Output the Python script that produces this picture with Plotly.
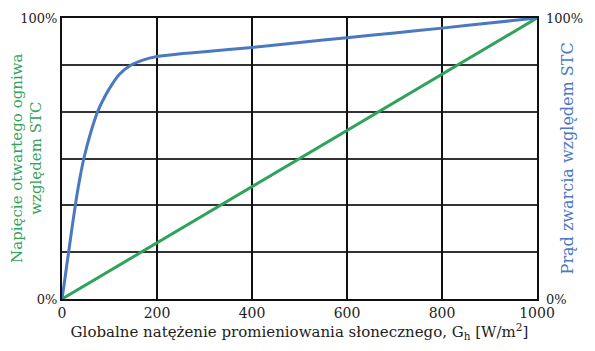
import plotly.graph_objects as go

# Data
irradiance = [0, 3, 6, 10, 14, 20, 28, 36, 46, 60, 75, 90, 105, 120, 143, 170, 200, 250, 300, 400, 500, 600, 700, 800, 900, 1000]
isc_pct = [0, 3.5, 7, 12, 16.7, 24, 33.3, 41.5, 50, 59, 66.7, 72, 76.3, 79.8, 83.0, 85.0, 86.3, 87.3, 88, 89.5, 91.3, 93, 94.7, 96.4, 98.2, 100]
voc_g = [0, 1000]
voc_pct = [0, 100]

x_ticks = [0, 200, 400, 600, 800, 1000]
y_ticks = [0, 100]
y_text = ["0%", "100%"]

BLUE = "#4a79c2"
GREEN = "#2fa35a"
FONT = "DejaVu Serif"

fig = go.Figure()
fig.add_trace(go.Scatter(x=voc_g, y=voc_pct, mode="lines",
                         line=dict(color=GREEN, width=3), showlegend=False))
fig.add_trace(go.Scatter(x=irradiance, y=isc_pct, mode="lines", line_shape="spline",
                         line=dict(color=BLUE, width=3, smoothing=0.6), showlegend=False))
# invisible trace for the right axis
fig.add_trace(go.Scatter(x=[0, 1000], y=[0, 100], yaxis="y2", mode="lines",
                         line=dict(width=0), hoverinfo="skip", showlegend=False))

fig.update_layout(
    width=595, height=351,
    margin=dict(l=62, r=58, t=18, b=52),
    paper_bgcolor="white", plot_bgcolor="white",
    font=dict(family=FONT, size=14, color="#222"),
    xaxis=dict(range=[0, 1000], tickvals=x_ticks, ticks="", showgrid=True,
               gridcolor="#111", gridwidth=2, zeroline=False,
               showline=True, linecolor="#111", linewidth=2, mirror=True,
               tickfont=dict(family=FONT, size=14, color="#222"),
               title=dict(text="Globalne natężenie promieniowania słonecznego, G<sub>h</sub> [W/m<sup>2</sup>]",
                          font=dict(family=FONT, size=15, color="#222"), standoff=0)),
    yaxis=dict(range=[0, 100], tickvals=y_ticks, ticktext=y_text, ticks="",
               showgrid=False, zeroline=False,
               minor=dict(tick0=0, dtick=100/6, showgrid=True, gridcolor="#333", gridwidth=2, ticks=""),
               showline=True, linecolor="#111", linewidth=2, mirror=True,
               tickfont=dict(family=FONT, size=13, color="#222")),
    yaxis2=dict(range=[0, 100], tickvals=y_ticks, ticktext=y_text, ticks="",
                overlaying="y", side="right", showgrid=False, zeroline=False,
                showline=False, ticklabelstandoff=8,
                tickfont=dict(family=FONT, size=13, color="#222")),
)

fig.add_annotation(text="Napięcie otwartego ogniwa<br>względem STC", xref="paper", yref="paper",
                   x=-0.075, y=0.5, xanchor="center", yanchor="middle", textangle=-90,
                   showarrow=False, font=dict(family=FONT, size=15, color=GREEN))
fig.add_annotation(text="Prąd zwarcia względem STC", xref="paper", yref="paper",
                   x=1.065, y=0.5, xanchor="center", yanchor="middle", textangle=-90,
                   showarrow=False, font=dict(family=FONT, size=16, color=BLUE))

fig.write_html("out.html")
